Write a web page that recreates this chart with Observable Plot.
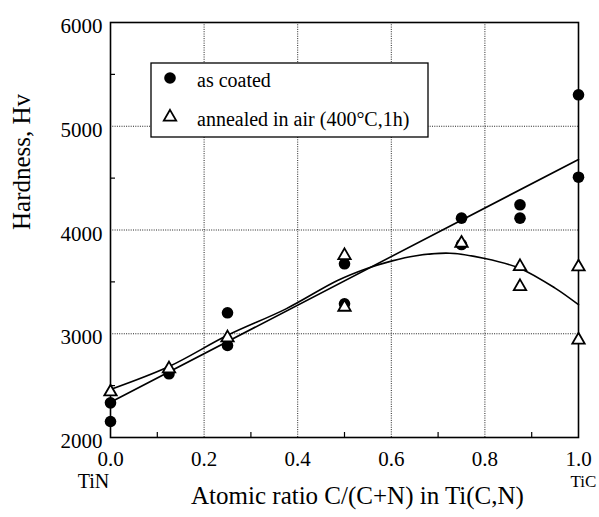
<!DOCTYPE html>
<html><head><meta charset="utf-8">
<script src="https://cdn.jsdelivr.net/npm/d3@7"></script>
<script src="https://cdn.jsdelivr.net/npm/@observablehq/plot@0.6"></script>
<style>body{margin:0;background:#fff}</style>
</head><body><div id="chart"></div>
<script>
// As coated (filled circles)
const coatedX = [0, 0, 0.125, 0.25, 0.25, 0.5, 0.5, 0.75, 0.75, 0.875, 0.875, 1, 1];
const coatedY = [2154, 2334, 2614, 3202, 2887, 3674, 3289, 4114, 3860, 4243, 4114, 5303, 4509];
// Annealed in air (open triangles)
const annealedX = [0, 0.125, 0.25, 0.5, 0.5, 0.75, 0.875, 0.875, 1, 1];
const annealedY = [2440, 2662, 2961, 3754, 3256, 3873, 3648, 3455, 3645, 2940];
// Fitted straight line (as coated)
const lineX = [0, 1];
const lineY = [2340, 4680];
// Fitted curve (annealed)
const curveX = [0, 0.125, 0.25, 0.375, 0.485, 0.548, 0.6, 0.65, 0.725, 0.8, 0.875, 0.95, 1];
const curveY = [2463, 2684, 2985, 3240, 3513, 3629, 3700, 3750, 3776, 3725, 3630, 3440, 3280];
// Axes
const xTicks = [0, 0.2, 0.4, 0.6, 0.8, 1.0];
const xGrid = [0.2, 0.4, 0.6, 0.8];
const xMinor = [0.1, 0.3, 0.5, 0.7, 0.9];
const yTicks = [2000, 3000, 4000, 5000, 6000];
const yGrid = [3000, 4000, 5000];
const yMinor = [2500, 3500, 4500, 5500];
const endLabels = ["TiN", "TiC"];
const legendLabels = ["as coated", "annealed in air (400°C,1h)"];

const coated = coatedX.map((x, i) => ({x, y: coatedY[i]}));
const annealed = annealedX.map((x, i) => ({x, y: annealedY[i]}));
const fitLine = lineX.map((x, i) => ({x, y: lineY[i]}));
const fitCurve = curveX.map((x, i) => ({x, y: curveY[i]}));

const font = "'Liberation Serif', 'Times New Roman', serif";
const plot = Plot.plot({
  width: 599, height: 517,
  marginLeft: 110, marginRight: 21, marginTop: 22, marginBottom: 80,
  style: {fontFamily: font, background: "#fff", color: "#000"},
  x: {domain: [0, 1], label: null},
  y: {domain: [2000, 6000], label: null},
  marks: [
    Plot.ruleX(xGrid, {stroke: "#222", strokeWidth: 1, strokeDasharray: "1,1.3"}),
    Plot.ruleY(yGrid, {stroke: "#222", strokeWidth: 1, strokeDasharray: "1,1.3"}),
    Plot.axisX({ticks: xTicks, tickSize: 0, tickPadding: 14, tickFormat: d3.format(".1f"), fontSize: 21, label: null}),
    Plot.axisX({ticks: xMinor, tickSize: -5, text: null, label: null, strokeWidth: 1.2}),
    Plot.axisY({ticks: yTicks, tickSize: 0, tickPadding: 8, fontSize: 21, dy: 4, tickFormat: d => String(d), label: null}),
    Plot.axisY({ticks: yMinor, tickSize: -5, text: null, label: null, strokeWidth: 1.2}),
    Plot.text([endLabels[0]], {x: () => 0, frameAnchor: "bottom", dy: 50, dx: -17, text: d => d, fontSize: 20}),
    Plot.text([endLabels[1]], {x: () => 1, frameAnchor: "bottom", dy: 49, dx: 5, text: d => d, fontSize: 17}),
    Plot.text(["Atomic ratio C/(C+N) in Ti(C,N)"], {frameAnchor: "bottom", dy: 66, dx: 13, text: d => d, fontSize: 25}),
    Plot.text(["Hardness, Hv"], {frameAnchor: "left", dx: -89, dy: 0, rotate: -90, text: d => d, fontSize: 25}),
    Plot.line(fitLine, {x: "x", y: "y", stroke: "#000", strokeWidth: 1.6}),
    Plot.line(fitCurve, {x: "x", y: "y", stroke: "#000", strokeWidth: 1.6, curve: "catmull-rom"}),
    Plot.frame({stroke: "#000", strokeWidth: 1.6}),
    Plot.dot(coated, {x: "x", y: "y", r: 5.8, fill: "#000", stroke: null}),
    Plot.dot(annealed, {x: "x", y: "y", r: 4.6, symbol: "triangle", fill: "#fff", stroke: "#000", strokeWidth: 1.8})
  ]
});
document.getElementById("chart").appendChild(plot);

// Legend box drawn on top (decoration)
const svg = d3.select(plot);
const g = svg.append("g").attr("font-family", font).attr("font-size", 20).attr("text-anchor", "start");
g.append("rect").attr("x", 151).attr("y", 63).attr("width", 277).attr("height", 74)
  .attr("fill", "#fff").attr("stroke", "#000").attr("stroke-width", 1.3);
g.append("circle").attr("cx", 170).attr("cy", 78).attr("r", 5.8).attr("fill", "#000");
g.append("path").attr("transform", "translate(170,117)")
  .attr("d", d3.symbol(d3.symbolTriangle, Math.PI * 4.6 * 4.6)())
  .attr("fill", "#fff").attr("stroke", "#000").attr("stroke-width", 1.8);
g.selectAll("text.lg").data(legendLabels).join("text").attr("class", "lg")
  .attr("x", 197).attr("y", (d, i) => i === 0 ? 81 : 120).attr("dy", "0.32em").text(d => d);
</script>
</body></html>
